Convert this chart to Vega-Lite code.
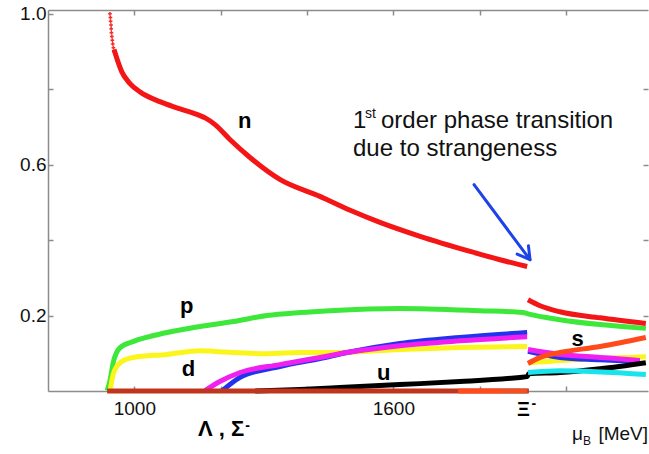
{
  "$schema": "https://vega.github.io/schema/vega-lite/v6.json",
  "autosize": {"type": "none"},
  "padding": {"left": 48, "top": 10, "right": 1, "bottom": 63},
  "width": 600,
  "height": 381,
  "background": "white",
  "config": {"view": {"stroke": null}, "font": "Liberation Sans"},
  "datasets": {
    "curves": [
      {"s": "p", "g": "a", "x": 937, "y": 0.001},
      {"s": "p", "g": "a", "x": 944, "y": 0.030},
      {"s": "p", "g": "a", "x": 951, "y": 0.075},
      {"s": "p", "g": "a", "x": 967, "y": 0.115},
      {"s": "p", "g": "a", "x": 997, "y": 0.131},
      {"s": "p", "g": "a", "x": 1076, "y": 0.155},
      {"s": "p", "g": "a", "x": 1152, "y": 0.171},
      {"s": "p", "g": "a", "x": 1229, "y": 0.184},
      {"s": "p", "g": "a", "x": 1307, "y": 0.200},
      {"s": "p", "g": "a", "x": 1384, "y": 0.208},
      {"s": "p", "g": "a", "x": 1453, "y": 0.213},
      {"s": "p", "g": "a", "x": 1615, "y": 0.219},
      {"s": "p", "g": "a", "x": 1801, "y": 0.213},
      {"s": "p", "g": "a", "x": 1900, "y": 0.208},
      {"s": "p", "g": "a", "x": 1910, "y": 0.205},
      {"s": "p", "g": "a", "x": 1917, "y": 0.203},
      {"s": "p", "g": "a", "x": 1986, "y": 0.189},
      {"s": "p", "g": "a", "x": 2079, "y": 0.176},
      {"s": "p", "g": "a", "x": 2185, "y": 0.166},

      {"s": "d", "g": "a", "x": 944, "y": 0.001},
      {"s": "d", "g": "a", "x": 951, "y": 0.044},
      {"s": "d", "g": "a", "x": 967, "y": 0.075},
      {"s": "d", "g": "a", "x": 997, "y": 0.089},
      {"s": "d", "g": "a", "x": 1076, "y": 0.097},
      {"s": "d", "g": "a", "x": 1152, "y": 0.107},
      {"s": "d", "g": "a", "x": 1187, "y": 0.105},
      {"s": "d", "g": "a", "x": 1229, "y": 0.102},
      {"s": "d", "g": "a", "x": 1307, "y": 0.099},
      {"s": "d", "g": "a", "x": 1384, "y": 0.102},
      {"s": "d", "g": "a", "x": 1476, "y": 0.102},
      {"s": "d", "g": "a", "x": 1615, "y": 0.110},
      {"s": "d", "g": "a", "x": 1754, "y": 0.115},
      {"s": "d", "g": "a", "x": 1910, "y": 0.118},
      {"s": "d", "g": "b", "x": 1912, "y": 0.075},
      {"s": "d", "g": "b", "x": 1986, "y": 0.081},
      {"s": "d", "g": "b", "x": 2079, "y": 0.086},
      {"s": "d", "g": "b", "x": 2185, "y": 0.091},

      {"s": "Sigma", "g": "a", "x": 1203, "y": 0.0},
      {"s": "Sigma", "g": "a", "x": 1245, "y": 0.036},
      {"s": "Sigma", "g": "a", "x": 1337, "y": 0.065},
      {"s": "Sigma", "g": "a", "x": 1430, "y": 0.086},
      {"s": "Sigma", "g": "a", "x": 1493, "y": 0.102},
      {"s": "Sigma", "g": "a", "x": 1615, "y": 0.126},
      {"s": "Sigma", "g": "a", "x": 1754, "y": 0.142},
      {"s": "Sigma", "g": "a", "x": 1910, "y": 0.155},
      {"s": "Sigma", "g": "b", "x": 1912, "y": 0.105},
      {"s": "Sigma", "g": "b", "x": 1986, "y": 0.089},
      {"s": "Sigma", "g": "b", "x": 2079, "y": 0.083},
      {"s": "Sigma", "g": "b", "x": 2171, "y": 0.078},

      {"s": "Lambda", "g": "a", "x": 1164, "y": 0.001},
      {"s": "Lambda", "g": "a", "x": 1198, "y": 0.025},
      {"s": "Lambda", "g": "a", "x": 1245, "y": 0.049},
      {"s": "Lambda", "g": "a", "x": 1337, "y": 0.070},
      {"s": "Lambda", "g": "a", "x": 1430, "y": 0.089},
      {"s": "Lambda", "g": "a", "x": 1493, "y": 0.102},
      {"s": "Lambda", "g": "a", "x": 1615, "y": 0.120},
      {"s": "Lambda", "g": "a", "x": 1754, "y": 0.133},
      {"s": "Lambda", "g": "a", "x": 1910, "y": 0.144},
      {"s": "Lambda", "g": "b", "x": 1912, "y": 0.110},
      {"s": "Lambda", "g": "b", "x": 1986, "y": 0.097},
      {"s": "Lambda", "g": "b", "x": 2079, "y": 0.089},
      {"s": "Lambda", "g": "b", "x": 2171, "y": 0.081},

      {"s": "u", "g": "a", "x": 1280, "y": 0.0},
      {"s": "u", "g": "a", "x": 1384, "y": 0.004},
      {"s": "u", "g": "a", "x": 1476, "y": 0.009},
      {"s": "u", "g": "a", "x": 1615, "y": 0.017},
      {"s": "u", "g": "a", "x": 1754, "y": 0.025},
      {"s": "u", "g": "a", "x": 1893, "y": 0.036},
      {"s": "u", "g": "a", "x": 1910, "y": 0.038},
      {"s": "u", "g": "a", "x": 1914, "y": 0.046},
      {"s": "u", "g": "a", "x": 1986, "y": 0.049},
      {"s": "u", "g": "a", "x": 2079, "y": 0.059},
      {"s": "u", "g": "a", "x": 2185, "y": 0.075},

      {"s": "zero", "g": "a", "x": 937, "y": 0.0},
      {"s": "zero", "g": "a", "x": 1914, "y": 0.0},

      {"s": "cyan", "g": "a", "x": 1850, "y": 0.0},
      {"s": "cyan", "g": "a", "x": 1910, "y": 0.0},
      {"s": "cyan", "g": "b", "x": 1912, "y": 0.049},
      {"s": "cyan", "g": "b", "x": 1986, "y": 0.054},
      {"s": "cyan", "g": "b", "x": 2185, "y": 0.044},

      {"s": "s", "g": "a", "x": 1750, "y": 0.0},
      {"s": "s", "g": "a", "x": 1910, "y": 0.0},
      {"s": "s", "g": "b", "x": 1912, "y": 0.073},
      {"s": "s", "g": "b", "x": 1940, "y": 0.089},
      {"s": "s", "g": "b", "x": 1986, "y": 0.102},
      {"s": "s", "g": "b", "x": 2079, "y": 0.118},
      {"s": "s", "g": "b", "x": 2185, "y": 0.142},

      {"s": "n", "g": "a", "x": 953, "y": 0.905},
      {"s": "n", "g": "a", "x": 962, "y": 0.873},
      {"s": "n", "g": "a", "x": 971, "y": 0.846},
      {"s": "n", "g": "a", "x": 990, "y": 0.815},
      {"s": "n", "g": "a", "x": 1013, "y": 0.793},
      {"s": "n", "g": "a", "x": 1059, "y": 0.767},
      {"s": "n", "g": "a", "x": 1106, "y": 0.748},
      {"s": "n", "g": "a", "x": 1152, "y": 0.730},
      {"s": "n", "g": "a", "x": 1164, "y": 0.724},
      {"s": "n", "g": "a", "x": 1187, "y": 0.706},
      {"s": "n", "g": "a", "x": 1222, "y": 0.666},
      {"s": "n", "g": "a", "x": 1268, "y": 0.619},
      {"s": "n", "g": "a", "x": 1337, "y": 0.561},
      {"s": "n", "g": "a", "x": 1430, "y": 0.516},
      {"s": "n", "g": "a", "x": 1500, "y": 0.479},
      {"s": "n", "g": "a", "x": 1569, "y": 0.447},
      {"s": "n", "g": "a", "x": 1662, "y": 0.410},
      {"s": "n", "g": "a", "x": 1778, "y": 0.370},
      {"s": "n", "g": "a", "x": 1847, "y": 0.348},
      {"s": "n", "g": "a", "x": 1910, "y": 0.330},
      {"s": "n", "g": "b", "x": 1912, "y": 0.242},
      {"s": "n", "g": "b", "x": 1940, "y": 0.226},
      {"s": "n", "g": "b", "x": 1986, "y": 0.210},
      {"s": "n", "g": "b", "x": 2079, "y": 0.194},
      {"s": "n", "g": "b", "x": 2185, "y": 0.179}
    ],
    "dots": [
      {"x": 943.5, "y": 1.0},
      {"x": 944.5, "y": 0.99},
      {"x": 945, "y": 0.98},
      {"x": 946, "y": 0.97},
      {"x": 946.5, "y": 0.96},
      {"x": 947, "y": 0.95},
      {"x": 948, "y": 0.94},
      {"x": 949, "y": 0.93},
      {"x": 950, "y": 0.92},
      {"x": 951.5, "y": 0.91},
      {"x": 953, "y": 0.90}
    ],
    "arrow": [
      {"part": "shaft", "o": 1, "x": 1787, "y": 0.547},
      {"part": "shaft", "o": 2, "x": 1916.7, "y": 0.348},
      {"part": "head", "o": 1, "x": 1886.8, "y": 0.363},
      {"part": "head", "o": 2, "x": 1916.7, "y": 0.348},
      {"part": "head", "o": 3, "x": 1913.0, "y": 0.385}
    ],
    "labels": [
      {"k": "curve", "t": "n", "x": 1240, "y": 0.698},
      {"k": "curve", "t": "p", "x": 1106, "y": 0.208},
      {"k": "curve", "t": "d", "x": 1110, "y": 0.040},
      {"k": "curve", "t": "u", "x": 1562, "y": 0.030},
      {"k": "curve", "t": "s", "x": 2013, "y": 0.119},
      {"k": "hyperon", "t": "Λ , Σ", "x": 1147.5, "y": -0.1205},
      {"k": "xi", "t": "Ξ", "x": 1886.5, "y": -0.0675},
      {"k": "sup", "t": "-", "x": 1257, "y": -0.094},
      {"k": "sup", "t": "-", "x": 1920, "y": -0.034},
      {"k": "note", "t": "1", "x": 1506.6, "y": 0.698},
      {"k": "note", "t": "order phase transition", "x": 1571.5, "y": 0.698},
      {"k": "note", "t": "due to strangeness", "x": 1506.6, "y": 0.624},
      {"k": "notesup", "t": "st", "x": 1534.4, "y": 0.7245},
      {"k": "unit", "t": "μ", "x": 2014, "y": -0.131},
      {"k": "unitsub", "t": "B", "x": 2039.4, "y": -0.1444},
      {"k": "unitr", "t": "[MeV]", "x": 2190, "y": -0.131}
    ]
  },
  "resolve": {"axis": {"x": "independent", "y": "independent"}},
  "layer": [
    {
      "data": {"name": "curves"},
      "mark": {"type": "line", "strokeWidth": 5, "strokeCap": "butt", "strokeJoin": "round", "interpolate": "monotone"},
      "encoding": {
        "x": {
          "field": "x", "type": "quantitative",
          "scale": {"domain": [800, 2190], "nice": false, "zero": false},
          "axis": {
            "orient": "bottom", "title": null, "grid": false,
            "values": [1000, 1200, 1400, 1600, 1800, 2000],
            "format": "d",
            "labelExpr": "datum.value == 1000 || datum.value == 1600 ? datum.label : ''",
            "tickSize": -5, "tickColor": "#8c8c8c", "tickWidth": 1.5,
            "domainColor": "#8c8c8c", "domainWidth": 1.5,
            "labelFontSize": 19, "labelColor": "#111", "labelPadding": 13
          }
        },
        "y": {
          "field": "y", "type": "quantitative",
          "scale": {"domain": [0, 1.01], "nice": false, "zero": false},
          "axis": {
            "orient": "left", "title": null, "grid": false,
            "values": [0.2, 0.4, 0.6, 0.8, 1.0],
            "labelExpr": "(datum.value == 0.2 || datum.value == 0.6 || datum.value == 1) ? format(datum.value, '.1f') : ''",
            "tickSize": -5, "tickColor": "#8c8c8c", "tickWidth": 1.5,
            "domainColor": "#8c8c8c", "domainWidth": 1.5,
            "labelFontSize": 19, "labelColor": "#111", "labelPadding": 7
          }
        },
        "color": {
          "field": "s", "type": "nominal", "legend": null,
          "scale": {
            "domain": ["p", "d", "Sigma", "Lambda", "u", "zero", "cyan", "s", "n"],
            "range": ["#3de83a", "#fbf51c", "#2233ee", "#f021f0", "#000000", "#c0361d", "#19e3ec", "#ff4b1c", "#f41616"]
          }
        },
        "detail": {"field": "g"}
      }
    },
    {
      "data": {"name": "arrow"},
      "mark": {"type": "line", "strokeWidth": 3, "color": "#1d43e8", "strokeCap": "round", "strokeJoin": "round"},
      "encoding": {
        "x": {
          "field": "x", "type": "quantitative",
          "axis": {
            "orient": "top", "title": null, "grid": false, "labels": false,
            "values": [1000, 1200, 1400, 1600, 1800, 2000],
            "tickSize": -5, "tickColor": "#8c8c8c", "tickWidth": 1.5,
            "domainColor": "#8c8c8c", "domainWidth": 1.5
          }
        },
        "y": {
          "field": "y", "type": "quantitative",
          "axis": {
            "orient": "right", "title": null, "grid": false, "labels": false,
            "values": [0.2, 0.4, 0.6, 0.8],
            "tickSize": -5, "tickColor": "#8c8c8c", "tickWidth": 1.5,
            "domain": false
          }
        },
        "detail": {"field": "part"},
        "order": {"field": "o"}
      }
    },
    {
      "data": {"name": "dots"},
      "mark": {"type": "point", "shape": "cross", "size": 14, "filled": true, "color": "#f41616", "opacity": 0.9},
      "encoding": {
        "x": {"field": "x", "type": "quantitative", "axis": null},
        "y": {"field": "y", "type": "quantitative", "axis": null}
      }
    },
    {
      "data": {"name": "labels"},
      "transform": [{"filter": "datum.k == 'curve'"}],
      "mark": {"type": "text", "fontSize": 22, "fontWeight": "bold", "align": "left", "baseline": "alphabetic", "color": "#000"},
      "encoding": {
        "x": {"field": "x", "type": "quantitative", "axis": null},
        "y": {"field": "y", "type": "quantitative", "axis": null},
        "text": {"field": "t"}
      }
    },
    {
      "data": {"name": "labels"},
      "transform": [{"filter": "datum.k == 'hyperon'"}],
      "mark": {"type": "text", "fontSize": 22, "fontWeight": "bold", "align": "left", "baseline": "alphabetic", "color": "#000"},
      "encoding": {
        "x": {"field": "x", "type": "quantitative", "axis": null},
        "y": {"field": "y", "type": "quantitative", "axis": null},
        "text": {"field": "t"}
      }
    },
    {
      "data": {"name": "labels"},
      "transform": [{"filter": "datum.k == 'xi'"}],
      "mark": {"type": "text", "fontSize": 20, "fontWeight": "bold", "align": "left", "baseline": "alphabetic", "color": "#000"},
      "encoding": {
        "x": {"field": "x", "type": "quantitative", "axis": null},
        "y": {"field": "y", "type": "quantitative", "axis": null},
        "text": {"field": "t"}
      }
    },
    {
      "data": {"name": "labels"},
      "transform": [{"filter": "datum.k == 'sup'"}],
      "mark": {"type": "text", "fontSize": 14, "fontWeight": "bold", "align": "left", "baseline": "middle", "color": "#000"},
      "encoding": {
        "x": {"field": "x", "type": "quantitative", "axis": null},
        "y": {"field": "y", "type": "quantitative", "axis": null},
        "text": {"field": "t"}
      }
    },
    {
      "data": {"name": "labels"},
      "transform": [{"filter": "datum.k == 'note'"}],
      "mark": {"type": "text", "fontSize": 24, "align": "left", "baseline": "alphabetic", "color": "#111"},
      "encoding": {
        "x": {"field": "x", "type": "quantitative", "axis": null},
        "y": {"field": "y", "type": "quantitative", "axis": null},
        "text": {"field": "t"}
      }
    },
    {
      "data": {"name": "labels"},
      "transform": [{"filter": "datum.k == 'notesup'"}],
      "mark": {"type": "text", "fontSize": 14, "align": "left", "baseline": "alphabetic", "color": "#111"},
      "encoding": {
        "x": {"field": "x", "type": "quantitative", "axis": null},
        "y": {"field": "y", "type": "quantitative", "axis": null},
        "text": {"field": "t"}
      }
    },
    {
      "data": {"name": "labels"},
      "transform": [{"filter": "datum.k == 'unit'"}],
      "mark": {"type": "text", "fontSize": 19, "align": "left", "baseline": "alphabetic", "color": "#111"},
      "encoding": {
        "x": {"field": "x", "type": "quantitative", "axis": null},
        "y": {"field": "y", "type": "quantitative", "axis": null},
        "text": {"field": "t"}
      }
    },
    {
      "data": {"name": "labels"},
      "transform": [{"filter": "datum.k == 'unitsub'"}],
      "mark": {"type": "text", "fontSize": 12, "align": "left", "baseline": "alphabetic", "color": "#111"},
      "encoding": {
        "x": {"field": "x", "type": "quantitative", "axis": null},
        "y": {"field": "y", "type": "quantitative", "axis": null},
        "text": {"field": "t"}
      }
    },
    {
      "data": {"name": "labels"},
      "transform": [{"filter": "datum.k == 'unitr'"}],
      "mark": {"type": "text", "fontSize": 19, "align": "right", "baseline": "alphabetic", "color": "#111"},
      "encoding": {
        "x": {"field": "x", "type": "quantitative", "axis": null},
        "y": {"field": "y", "type": "quantitative", "axis": null},
        "text": {"field": "t"}
      }
    }
  ]
}
